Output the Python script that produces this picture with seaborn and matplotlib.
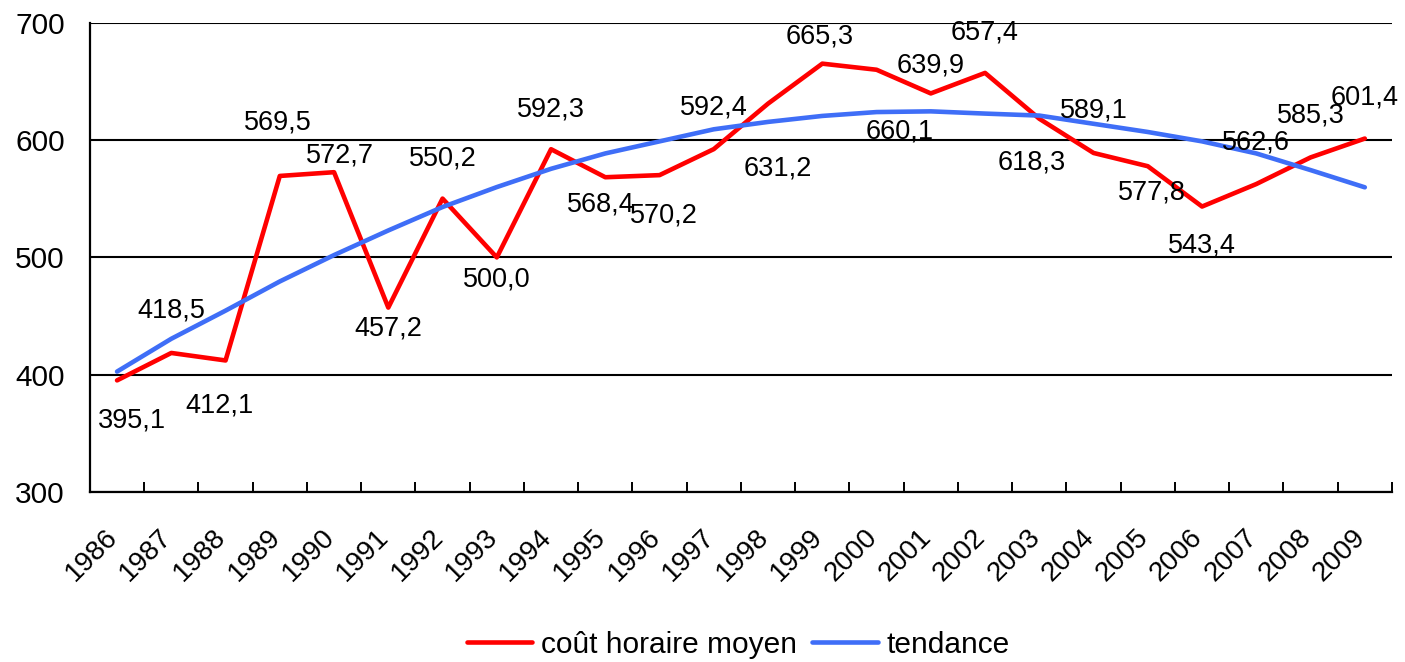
import seaborn as sns
import matplotlib.pyplot as plt
import matplotlib.transforms as mtransforms
import pandas as pd

# Données
annees = [str(a) for a in range(1986, 2010)]
cout_horaire = [395.1, 418.5, 412.1, 569.5, 572.7, 457.2, 550.2, 500.0, 592.3, 568.4, 570.2, 592.4,
                631.2, 665.3, 660.1, 639.9, 657.4, 618.3, 589.1, 577.8, 543.4, 562.6, 585.3, 601.4]
tendance = [402.6, 430.6, 454.6, 479.5, 502.0, 523.0, 543.0, 560.0, 575.6, 588.7, 599.0, 609.3,
            615.6, 620.7, 624.0, 624.6, 622.7, 621.0, 614.0, 607.0, 599.0, 588.7, 574.5, 559.8]

# Décalage des étiquettes (pixels, x / y vers le haut)
decalages = [(15, -40), (0, 42), (-6, -45), (-2, 53), (6, 17), (0, -21), (0, 40), (0, -22),
             (0, 40), (-4, -27), (4, -40), (0, 42), (10, -65), (-3, 27), (23, -62), (0, 28),
             (0, 40), (-8, -44), (0, 42), (4, -26), (0, -39), (0, 42), (0, 42), (0, 41)]

df = pd.DataFrame({'annee': annees, 'cout': cout_horaire, 'tendance': tendance})

sns.set_style('white')
plt.rcParams['font.family'] = ['Liberation Sans', 'DejaVu Sans']
plt.rcParams['text.color'] = 'black'
plt.rcParams['xtick.color'] = 'black'
plt.rcParams['ytick.color'] = 'black'

fig = plt.figure(figsize=(14.05, 6.62), dpi=100)
ax = fig.add_axes([0.064, 0.257, 0.9267, 0.7083])

sns.lineplot(data=df, x='annee', y='cout', color='#ff0000', linewidth=3.3, label='coût horaire moyen', ax=ax)
sns.lineplot(data=df, x='annee', y='tendance', color='#3f6ef7', linewidth=3.3, label='tendance', ax=ax)

# Étiquettes de données
for i, (v, (dx, dy)) in enumerate(zip(cout_horaire, decalages)):
    ax.annotate(f'{v:.1f}'.replace('.', ','), (i, v), xytext=(dx, dy), textcoords='offset pixels',
                ha='center', va='center', fontsize=19.5, color='black')

ax.set_xlim(-0.5, len(annees) - 0.5)
ax.set_ylim(300, 700)
ax.set_yticks([300, 400, 500, 600, 700])
ax.yaxis.grid(True, color='black', linewidth=1.5)
ax.set_axisbelow(True)
ax.set_xlabel('')
ax.set_ylabel('')

# graduations aux limites des catégories, libellés des années en texte incliné
ax.set_xticks([i - 0.5 for i in range(len(annees) + 1)], minor=True)
ax.set_xticks(range(len(annees)))
ax.set_xticklabels([])
ax.tick_params(axis='x', which='minor', direction='in', length=7, width=1.4, color='black', bottom=True)
ax.tick_params(axis='x', which='major', length=0)
ax.tick_params(axis='y', length=0, pad=18, labelsize=21.5)

trans_annee = mtransforms.offset_copy(ax.get_xaxis_transform(), fig=fig, x=-12.5, y=-32, units='dots')
for i, a in enumerate(annees):
    ax.text(i, 0, a, transform=trans_annee, rotation=45, ha='right', va='top',
            rotation_mode='anchor', fontsize=20, color='black')

for s in ['top', 'right']:
    ax.spines[s].set_visible(False)
for s in ['left', 'bottom']:
    ax.spines[s].set_color('black')
    ax.spines[s].set_linewidth(1.6)

ax.legend(loc='center', bbox_to_anchor=(0.498, -0.326), ncol=2, frameon=False, fontsize=21.5,
          handlelength=2.2, handletextpad=0.3, columnspacing=0.5)

plt.savefig('out.png', dpi=100)
